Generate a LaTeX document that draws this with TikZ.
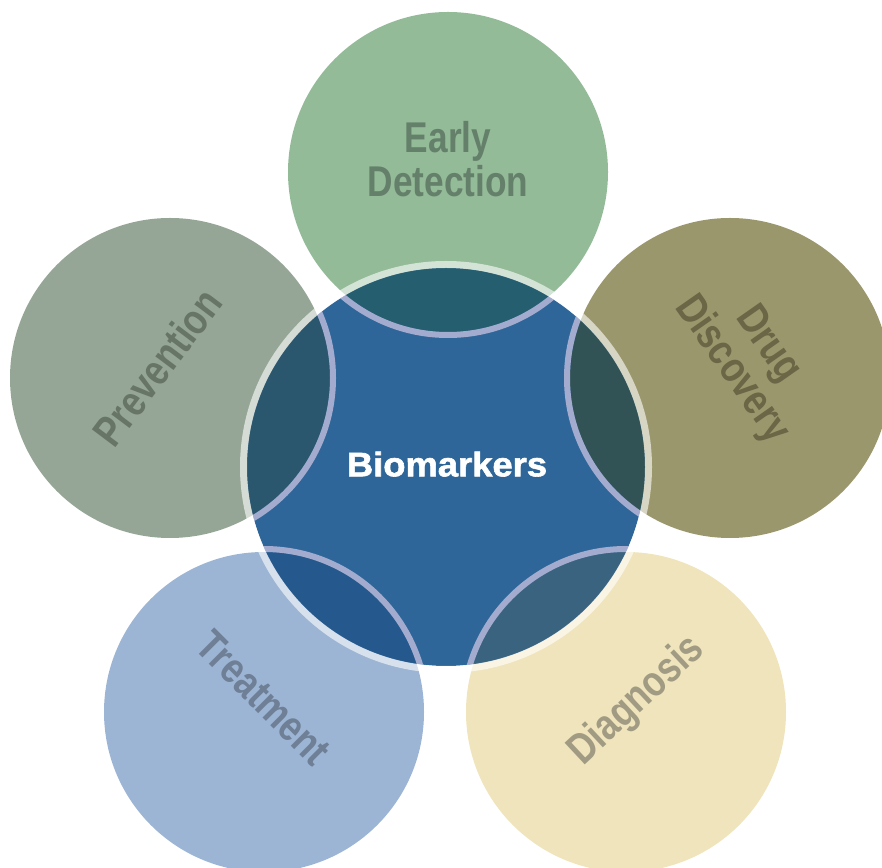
\documentclass[tikz,border=0pt]{standalone}
\usepackage{fontspec}
\setmainfont{Liberation Sans}
\newfontfamily\narrowsans[FakeStretch=0.82]{Liberation Sans}
\newfontfamily\widesans[FakeStretch=1.07,FakeBold=1.8]{Liberation Sans}

% petal fills
\definecolor{earlyfill}{HTML}{93BB98}
\definecolor{drugfill}{HTML}{9B976C}
\definecolor{diagfill}{HTML}{F0E4BC}
\definecolor{treatfill}{HTML}{9CB5D4}
\definecolor{prevfill}{HTML}{96A696}
% petal labels
\definecolor{earlytext}{HTML}{65806A}
\definecolor{drugtext}{HTML}{6A6646}
\definecolor{diagtext}{HTML}{A09B82}
\definecolor{treattext}{HTML}{6E7F96}
\definecolor{prevtext}{HTML}{677566}
% hub and lens colours
\definecolor{hubblue}{HTML}{2E6699}
\definecolor{earlylens}{HTML}{245E6F}
\definecolor{druglens}{HTML}{315356}
\definecolor{diaglens}{HTML}{3A6380}
\definecolor{treatlens}{HTML}{25598E}
\definecolor{prevlens}{HTML}{2A576D}
\definecolor{rimline}{HTML}{A3ACCF}

\begin{document}
\begin{tikzpicture}[x=1pt,y=1pt]
\tikzset{
  petal/.style={circle, minimum size=320pt, inner sep=0pt, outer sep=0pt},
  hubdisc/.style={circle, minimum size=398pt, inner sep=0pt, outer sep=0pt, fill=hubblue},
  petallabel/.style={inner sep=0pt, align=center, text depth=0pt,
    font=\narrowsans\bfseries\fontsize{43}{44}\selectfont},
  hublabel/.style={inner sep=0pt, text depth=0pt, text=white,
    font=\widesans\bfseries\fontsize{34}{36}\selectfont},
  lensrim/.style={draw=rimline, line width=6pt},
}
\useasboundingbox (0,0) rectangle (882,867);
\clip (0,0) rectangle (882,867);

% five petals
\node[petal, fill=earlyfill] (early) at (448,695) {};
\node[petal, fill=drugfill]  (drug)  at (730,489) {};
\node[petal, fill=diagfill]  (diag)  at (626,155) {};
\node[petal, fill=treatfill] (treat) at (264,155) {};
\node[petal, fill=prevfill]  (prev)  at (170,489) {};

% central disc
\node[hubdisc] (hub) at (446,400) {};

% darker lenses where each petal meets the disc, with their rims
\begin{scope}
  \clip (hub.center) circle (199);
  \fill[earlylens] (early.center) circle (160);
  \fill[druglens]  (drug.center)  circle (160);
  \fill[diaglens]  (diag.center)  circle (160);
  \fill[treatlens] (treat.center) circle (160);
  \fill[prevlens]  (prev.center)  circle (160);
  \draw[lensrim] (early.center) circle (163);
  \draw[lensrim] (drug.center)  circle (163);
  \draw[lensrim] (diag.center)  circle (163);
  \draw[lensrim] (treat.center) circle (163);
  \draw[lensrim] (prev.center)  circle (163);
\end{scope}

% translucent white rim around the disc
\draw[white, opacity=0.6, line width=7pt] (hub.center) circle (202.5);

% labels
\node[hublabel] (hubtext) at (447,403) {Biomarkers};
\node[petallabel, text=earlytext] (earlytxt) at (448,708.5) {Early\\Detection};
\node[petallabel, text=drugtext, rotate=-55] (drugtxt) at (753,512) {Drug\\Discovery};
\node[petallabel, text=diagtext, rotate=43] (diagtxt) at (634,169) {Diagnosis};
\node[petallabel, text=treattext, rotate=-45] (treattxt) at (264,169) {Treatment};
\node[petallabel, text=prevtext, rotate=53] (prevtxt) at (157,500) {Prevention};
\end{tikzpicture}
\end{document}
